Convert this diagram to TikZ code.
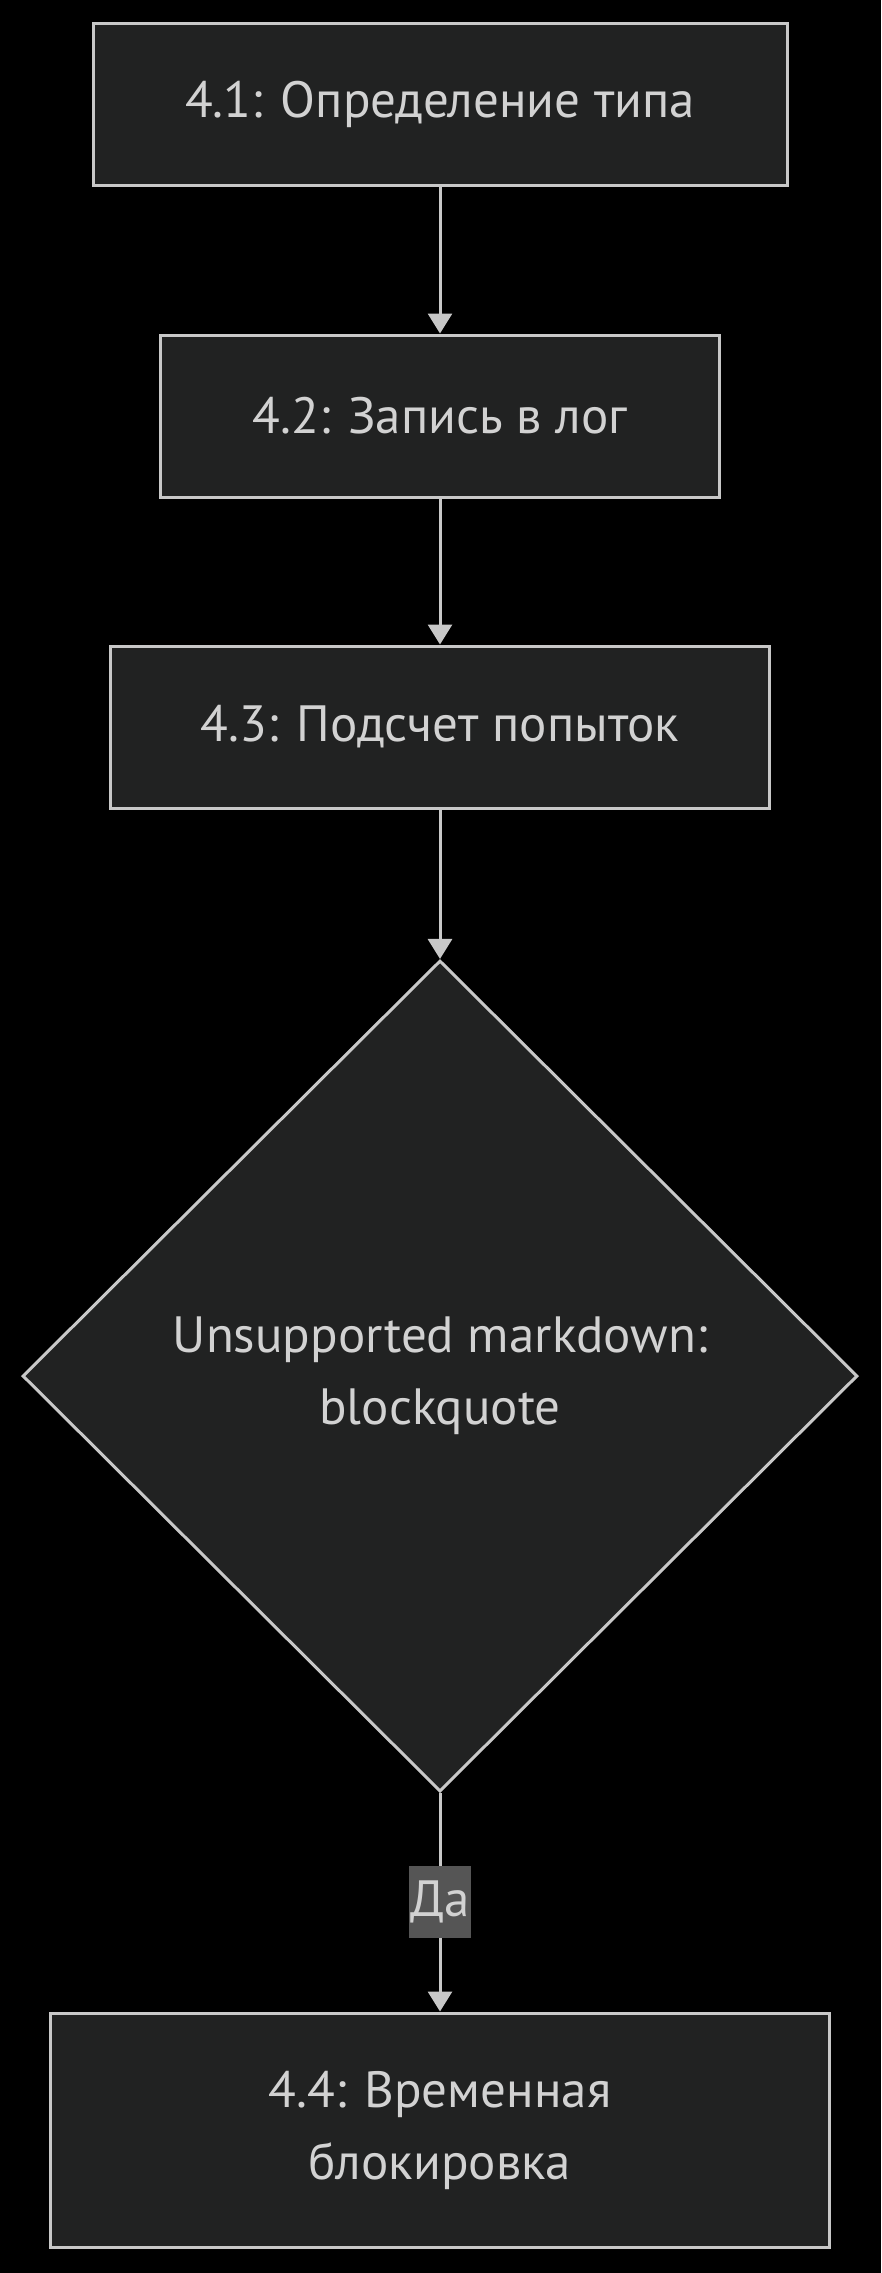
\documentclass[tikz,border=0pt]{standalone}
\usepackage{fontspec}
\setmainfont{PT Sans}
\usetikzlibrary{shapes.geometric,arrows.meta}

\definecolor{boxfill}{RGB}{33,34,34}
\definecolor{boxline}{RGB}{200,200,200}
\definecolor{boxtext}{RGB}{210,210,210}
\definecolor{labelfill}{RGB}{85,85,85}

\tikzset{
  procbox/.style={draw=boxline, fill=boxfill, line width=3pt, text=boxtext,
    align=center, inner sep=0pt, font=\fontsize{51}{72}\selectfont},
  decisionbox/.style={procbox, shape=diamond, aspect=1},
  flowarrow/.style={draw=boxline, line width=3pt, -{Triangle[length=20pt,width=24pt]}},
  edgelabel/.style={fill=labelfill, text=boxtext, inner xsep=1pt, inner ysep=0pt,
    minimum height=72pt, font=\fontsize{51}{60}\selectfont}
}

\begin{document}
\begin{tikzpicture}[x=1pt,y=-1pt]
  % background
  \fill[black] (0,0) rectangle (881,2273);
  \useasboundingbox (0,0) rectangle (881,2273);

  % steps
  \node[procbox, minimum width=694pt, minimum height=162pt] (typ) at (440,104) {4.1: Определение типа};
  \node[procbox, minimum width=559pt, minimum height=162pt] (log) at (440,416) {4.2: Запись в лог};
  \node[procbox, minimum width=659pt, minimum height=162pt] (cnt) at (440,727) {4.3: Подсчет попыток};
  \node[decisionbox, minimum width=835pt, minimum height=831pt] (chk) at (440,1376) {Unsupported markdown:\\blockquote};
  \node[procbox, minimum width=779pt, minimum height=234pt] (blk) at (440,2130) {4.4: Временная\\блокировка};

  % connectors
  \draw[flowarrow] (typ) -- (log);
  \draw[flowarrow] (log) -- (cnt);
  \draw[flowarrow] (cnt) -- (chk);
  \draw[flowarrow] (chk) -- node[edgelabel] (yes) {Да} (blk);
\end{tikzpicture}
\end{document}
